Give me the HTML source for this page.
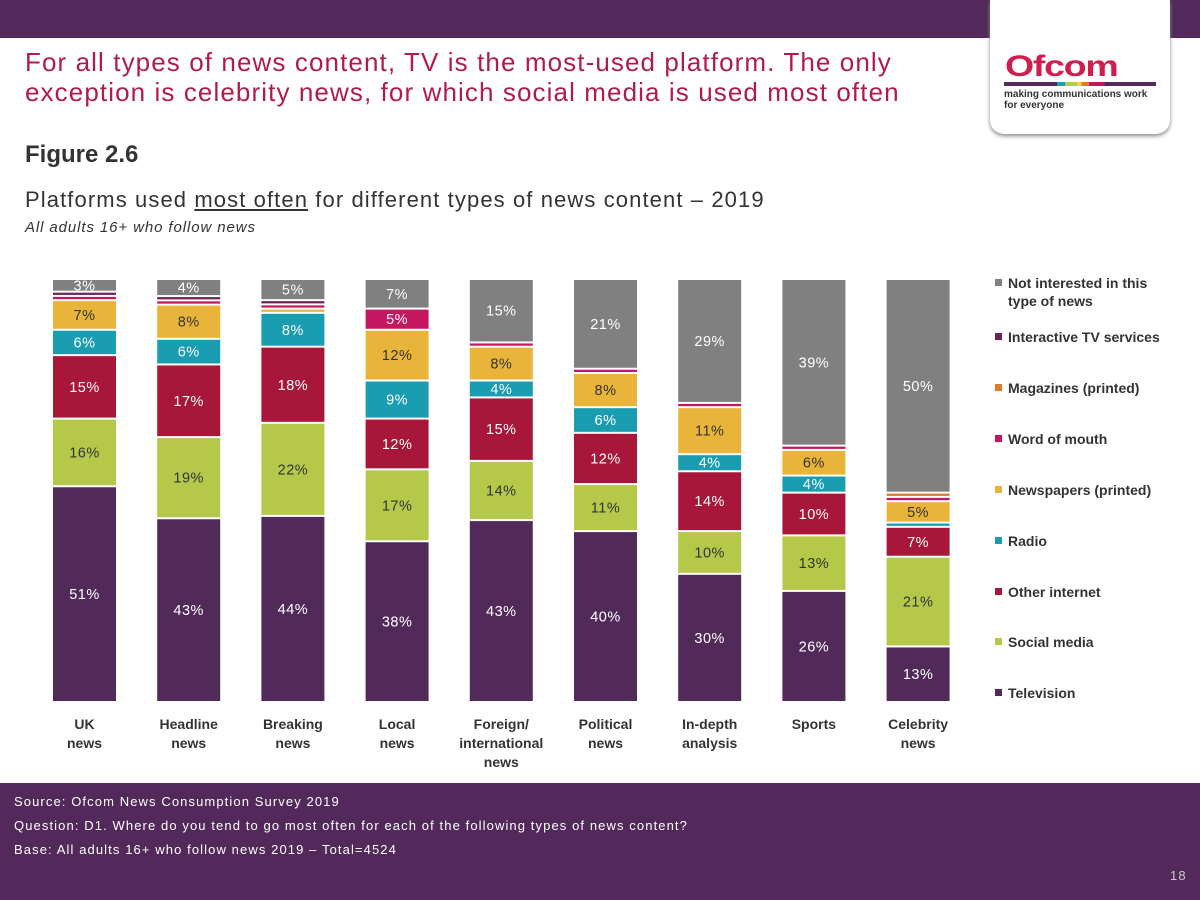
<!DOCTYPE html>
<html><head><meta charset="utf-8"><style>
body{margin:0;width:1200px;height:900px;overflow:hidden;background:#fff;font-family:"Liberation Sans","DejaVu Sans",sans-serif;position:relative}
.abs{position:absolute}
</style></head><body>
<div class="abs" style="left:0;top:0;width:1200px;height:38px;background:#52295a"></div>
<div class="abs" style="left:990px;top:0;width:180px;height:134px;background:#fff;border-radius:0 0 14px 14px;box-shadow:0 2px 4px #888">
  <div style="position:absolute;left:15px;top:52px;font:bold 30px 'Liberation Sans',sans-serif;color:#d01d50;letter-spacing:-1px;line-height:30px;transform:scaleX(1.25);transform-origin:left">Ofcom</div>
  <div style="position:absolute;left:14px;top:82px;width:152px;height:4px;background:linear-gradient(90deg,#52295a 0 35%,#1a9db0 35% 40%,#b5c84a 40% 48%,#e8d83a 48% 51%,#e07a2a 51% 56%,#c5175f 56% 66%,#52295a 66%)"></div>
  <div style="position:absolute;left:14px;top:89px;font:bold 10px 'Liberation Sans',sans-serif;color:#333;line-height:11px">making communications work<br>for everyone</div>
</div>
<div class="abs" style="left:25px;top:47px;font-size:26px;line-height:30px;color:#b01c4a;letter-spacing:1.1px">For all types of news content, TV is the most-used platform. The only<br>exception is celebrity news, for which social media is used most often</div>
<div class="abs" style="left:25px;top:141px;font-size:24px;font-weight:bold;color:#333">Figure 2.6</div>
<div class="abs" style="left:25px;top:187px;font-size:22px;color:#333;letter-spacing:1.1px">Platforms used <u>most often</u> for different types of news content – 2019</div>
<div class="abs" style="left:25px;top:219px;font-size:15px;font-style:italic;color:#333;letter-spacing:0.9px">All adults 16+ who follow news</div>
<svg class="abs" style="left:0;top:0" width="1200" height="783" id="chart"></svg>
<div class="abs" style="left:0;top:783px;width:1200px;height:117px;background:#52295a;color:#fff;font-size:13px;letter-spacing:1.1px">
  <div style="position:absolute;left:14px;top:11px">Source: Ofcom News Consumption Survey 2019</div>
  <div style="position:absolute;left:14px;top:35px">Question: D1. Where do you tend to go most often for each of the following types of news content?</div>
  <div style="position:absolute;left:14px;top:59px">Base: All adults 16+ who follow news 2019 – Total=4524</div>
  <div style="position:absolute;left:1170px;top:85px;color:#ccc">18</div>
</div>
<script>
const categories=[["UK","news"],["Headline","news"],["Breaking","news"],["Local","news"],["Foreign/","international","news"],["Political","news"],["In-depth","analysis"],["Sports"],["Celebrity","news"]];
const seriesNames=["Television","Social media","Other internet","Radio","Newspapers (printed)","Word of mouth","Magazines (printed)","Interactive TV services","Not interested in this type of news"];
const television=[51,43,44,38,43,40,30,26,13];
const socialMedia=[16,19,22,17,14,11,10,13,21];
const otherInternet=[15,17,18,12,15,12,14,10,7];
const radio=[6,6,8,9,4,6,4,4,1];
const newspapers=[7,8,1,12,8,8,11,6,5];
const wordOfMouth=[1,1,1,5,1,1,1,1,1];
const magazines=[0,0,0,0,0,0,0,0,1];
const interactiveTV=[1,1,1,0,0,0,0,0,0];
const notInterested=[3,4,5,7,15,21,29,39,50];
const colors=["#522a5a","#b5c84a","#a8163a","#1a9db0","#e8b53a","#c5175f","#e07a2a","#6b2458","#808080"];
const darkText=[false,true,false,false,true,false,false,false,false];
const series=[television,socialMedia,otherInternet,radio,newspapers,wordOfMouth,magazines,interactiveTV,notInterested];
const svg=document.getElementById('chart');const NS="http://www.w3.org/2000/svg";
const y0=702,y1=279,x0=53,step=104.2,bw=63;
function mk(t,a){const e=document.createElementNS(NS,t);for(const k in a)e.setAttribute(k,a[k]);svg.appendChild(e);return e;}
categories.forEach((c,i)=>{
  let tot=0;series.forEach(s=>tot+=s[i]);
  const sc=(y0-y1)/tot;let cum=0;const x=x0+i*step;
  series.forEach((s,j)=>{
    const v=s[i];if(v<=0)return;
    const yt=y0-(cum+v)*sc,h=v*sc;cum+=v;
    const r=mk('rect',{x:x,y:yt+1,width:bw,height:Math.max(h-2,1.5),fill:colors[j]});
    
    
    if(v>=3){const t=mk('text',{x:x+bw/2,y:yt+h/2+5,'text-anchor':'middle','font-size':'14.5','letter-spacing':'0.5',fill:darkText[j]?'#333':'#fff'});
      t.textContent=v+'%';
      
      }
  });
  c.forEach((ln,k)=>{const t=mk('text',{x:x+bw/2,y:729+k*19,'text-anchor':'middle','font-size':'14','font-weight':'bold',fill:'#333'});
    t.textContent=ln;
    
    });
});
const legY=[693,642,592,541,490,439,388,337,283];
seriesNames.forEach((n,j)=>{
  const y=legY[j];
  const r=mk('rect',{x:995,y:y-4,width:7,height:7,fill:colors[j]});
  
  
  const lines=j==8?["Not interested in this","type of news"]:[n];
  lines.forEach((l,k)=>{const t=mk('text',{x:1008,y:y+5+k*18,'font-size':'14','font-weight':'bold',fill:'#333'});
    t.textContent=l;
    
    });
});
</script>
</body></html>
